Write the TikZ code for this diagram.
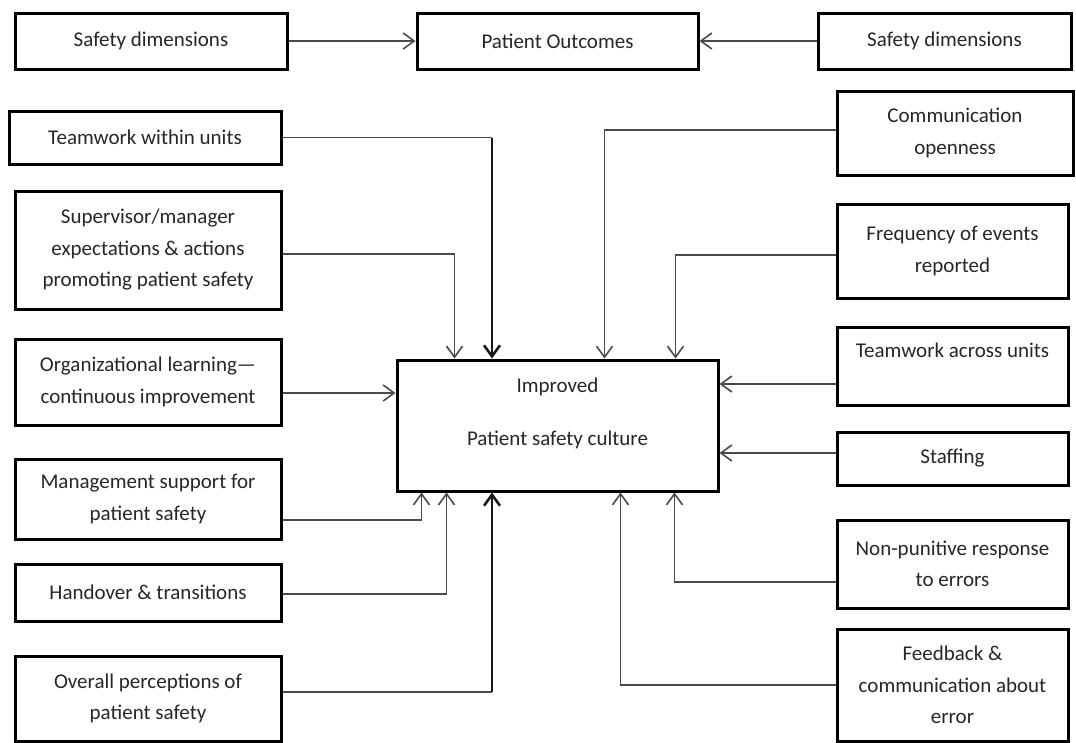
\documentclass[tikz,border=0pt]{standalone}
\usepackage{fontspec}
\setmainfont{Carlito}
\usetikzlibrary{arrows.meta}
\definecolor{conngray}{HTML}{4A4A4A}

\begin{document}
\begin{tikzpicture}[
  x=1pt,
  y=-1pt,
  line join=miter,
  box/.style={draw=black,line width=3pt,inner sep=0pt,align=center,
    text=black!85,font=\fontsize{21}{31.5}\selectfont},
  conn/.style={draw=conngray,line width=1.6pt},
  connbold/.style={draw=black!90,line width=2.6pt},
  arrowend/.style={-{Straight Barb[length=11pt,width=16pt]}}
]
  % Match the original artwork frame.
  \useasboundingbox (0,0) rectangle (1076,742);

  % Top row: the two safety dimensions feed the outcomes.
  \node[box,minimum width=272pt,minimum height=56pt] (sdleft) at (151,41) {Safety dimensions};
  \node[box,minimum width=281pt,minimum height=56pt] (outcomes) at (557.5,41) {Patient Outcomes};
  \node[box,minimum width=253pt,minimum height=56pt] (sdright) at (944.5,41) {Safety dimensions};

  % Central box.
  \node[box,minimum width=321pt,minimum height=131pt] (culture) at (557.5,425.5) {};
  \node[align=center,text=black!85,font=\fontsize{21}{31.5}\selectfont] (culturetext)
    at (557.5,413.5) {Improved\\[21pt]Patient safety culture};

  % Left column of dimensions.
  \node[box,minimum width=272pt,minimum height=53pt] (twu) at (145,137.5) {Teamwork within units};
  \node[box,minimum width=266pt,minimum height=118pt] (sup) at (148,250)
    {Supervisor/manager\\expectations \& actions\\promoting patient safety};
  \node[box,minimum width=266pt,minimum height=86pt] (org) at (148,382)
    {Organizational learning---\\continuous improvement};
  \node[box,minimum width=266pt,minimum height=80pt] (mgmt) at (148,499)
    {Management support for\\patient safety};
  \node[box,minimum width=266pt,minimum height=57pt] (hand) at (148,592.5) {Handover \& transitions};
  \node[box,minimum width=266pt,minimum height=85pt] (ovr) at (148,698.5)
    {Overall perceptions of\\patient safety};

  % Right column of dimensions.
  \node[box,minimum width=236pt,minimum height=84pt] (comm) at (955,133)
    {Communication\\openness};
  \node[box,minimum width=231pt,minimum height=94pt] (freq) at (952.5,251)
    {Frequency of events\\reported};
  \node[box,minimum width=231pt,minimum height=78pt] (twa) at (952.5,366)
    {Teamwork across units\\~};
  \node[box,minimum width=231pt,minimum height=53pt] (stf) at (952.5,458.5) {Staffing};
  \node[box,minimum width=231pt,minimum height=88pt] (nonpun) at (952.5,564)
    {Non-punitive response\\to errors};
  \node[box,minimum width=231pt,minimum height=112pt] (fb) at (952.5,685)
    {Feedback \&\\communication about\\error};

  % Top row arrows.
  \draw[conn,arrowend] (sdleft) -- (outcomes);
  \draw[conn,arrowend] (sdright) -- (outcomes);

  % Left connectors.
  \coordinate (twucorner) at (492,137.5);
  \draw[conn] (twu.east) -- (twucorner);
  \draw[connbold,arrowend] (twucorner) -- (twucorner |- culture.north);
  \draw[conn,arrowend] ([yshift=-4pt]sup.east) -| ([xshift=59pt]culture.north west);
  \draw[conn,arrowend] ([yshift=-11pt]org.east) -- ([yshift=-11pt]org.east -| culture.west);
  \draw[conn,arrowend] ([yshift=-21pt]mgmt.east) -| ([xshift=26pt]culture.south west);
  \draw[conn,arrowend] ([yshift=-1.5pt]hand.east) -| ([xshift=51pt]culture.south west);
  \coordinate (ovrcorner) at (492,692);
  \draw[conn] ([yshift=6.5pt]ovr.east) -- (ovrcorner);
  \draw[connbold,arrowend] (ovrcorner) -- (ovrcorner |- culture.south);

  % Right connectors.
  \draw[conn,arrowend] ([yshift=3pt]comm.west) -| ([xshift=209pt]culture.north west);
  \draw[conn,arrowend] ([yshift=-4pt]freq.west) -| ([xshift=280pt]culture.north west);
  \draw[conn,arrowend] ([yshift=-18pt]twa.west) -- ([yshift=-18pt]twa.west -| culture.east);
  \draw[conn,arrowend] ([yshift=5.5pt]stf.west) -- ([yshift=5.5pt]stf.west -| culture.east);
  \draw[conn,arrowend] ([yshift=-18pt]nonpun.west) -| ([xshift=279pt]culture.south west);
  \draw[conn,arrowend] (fb.west) -| ([xshift=225pt]culture.south west);
\end{tikzpicture}
\end{document}
